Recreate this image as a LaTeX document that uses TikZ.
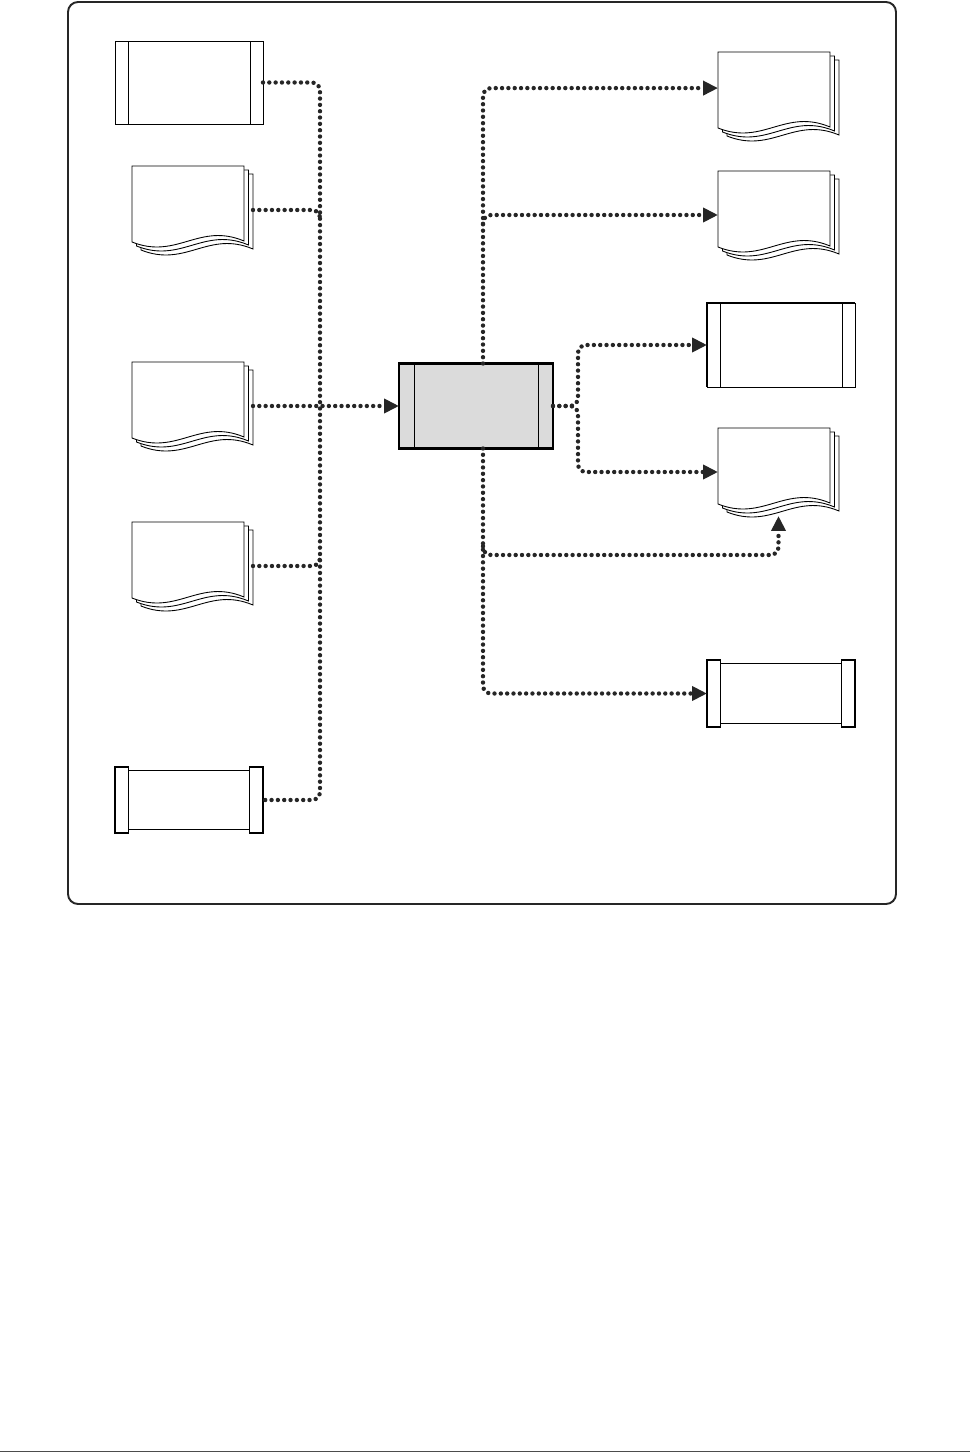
\documentclass[tikz,border=0pt]{standalone}
\usepackage{tikz}
\usetikzlibrary{arrows.meta}

\tikzset{
  flow/.style={draw=black!85, line width=2.5pt, dash pattern=on 0pt off 3.6pt,
    line cap=round, rounded corners=0.16cm},
  flowto/.style={flow, -{Triangle[length=0.3cm,width=0.28cm]}},
  procbox/.style={draw, line width=0.5pt, fill=white, inner sep=0pt, outer sep=0pt,
    minimum width=2.96cm, minimum height=1.66cm},
  hubbox/.style={procbox, fill=black!14, line width=1.2pt,
    minimum width=3.08cm, minimum height=1.7cm},
  rollbox/.style={inner sep=0pt, outer sep=0pt, minimum width=2.96cm, minimum height=1.32cm},
  docbox/.style={inner sep=0pt, outer sep=0pt, minimum width=2.42cm, minimum height=1.76cm},
  page/.style={draw, fill=white, line width=0.5pt},
}

\begin{document}
\begin{tikzpicture}[x=0.02cm, y=-0.02cm]
  \useasboundingbox (0,0) rectangle (970,1453);
  \draw[line width=1.1pt, black!85, rounded corners=0.2cm] (68,2) rectangle (896,904);
  \draw[line width=0.9pt, black!70] (0,1451.5) -- (970,1451.5);

  % sources
  \node[procbox] (src_proc) at (189,82.5) {};
  \node[docbox] (src_doc_a) at (192.5,210) {};
  \node[docbox] (src_doc_b) at (192.5,406) {};
  \node[docbox] (src_doc_c) at (192.5,566) {};
  \node[rollbox] (src_term) at (189,800) {};

  % hub
  \node[hubbox] (hub) at (476,406) {};

  % targets
  \node[docbox] (dst_doc_a) at (778.5,96) {};
  \node[docbox] (dst_doc_b) at (778.5,215) {};
  \node[procbox, minimum height=1.68cm] (dst_proc) at (781,345) {};
  \node[docbox] (dst_doc_c) at (778.5,472) {};
  \node[rollbox, minimum height=1.34cm] (dst_term) at (781,693.5) {};

  % side bars of the process boxes
  \foreach \n/\d in {src_proc/0.26cm, dst_proc/0.26cm, hub/0.3cm}{
    \draw[line width=0.5pt] ([xshift=\d]\n.north west) -- ([xshift=\d]\n.south west);
    \draw[line width=0.5pt] ([xshift=-\d]\n.north east) -- ([xshift=-\d]\n.south east);
  }
  \draw[line width=1.1pt] (dst_proc.south west) -- (dst_proc.north west) -- (dst_proc.north east);

  % end caps
  \foreach \n in {src_term, dst_term}{
    \draw[page] ([xshift=0.27cm,yshift=-0.07cm]\n.north west) rectangle ([xshift=-0.27cm,yshift=0.07cm]\n.south east);
    \draw[page, line width=0.7pt] (\n.north west) rectangle ([xshift=0.27cm]\n.south west);
    \draw[page, line width=0.7pt] (\n.north east) rectangle ([xshift=-0.27cm]\n.south east);
  }

  % stacked pages
  \foreach \n in {src_doc_a, src_doc_b, src_doc_c, dst_doc_a, dst_doc_b, dst_doc_c}{
    \begin{scope}[shift={(\n.north west)}]
      \foreach \dx/\dy in {9/8, 4.5/4, 0/0}
        \draw[page] (\dx,\dy) -- ({\dx+112},\dy) -- ({\dx+112},{\dy+75})
          .. controls ({\dx+67},{\dy+56}) and ({\dx+45},{\dy+94}) .. (\dx,{\dy+76}) -- cycle;
    \end{scope}
  }

  % junctions
  \coordinate (lbus) at (320,406);
  \coordinate (rbus) at (483,406);
  \coordinate (rsplit) at (578,406);
  \coordinate (rjoin) at (483,555);

  % into the hub
  \draw[flow] (src_proc.east) -- (lbus |- src_proc.east) -- (lbus |- src_term.east) -- (src_term.east);
  \draw[flow] (src_doc_a.east) -| ([yshift=-5pt]lbus |- src_doc_a.east);
  \draw[flow] (src_doc_c.east) -| ([yshift=5pt]lbus |- src_doc_c.east);
  \draw[flowto] (src_doc_b.east) -- (hub.west);

  % out of the hub
  \draw[flowto] (rbus |- hub.north) |- ([yshift=4.5pt]dst_doc_a.west);
  \draw[flowto] ([yshift=-5pt]rbus |- dst_doc_b.west) |- (dst_doc_b.west);
  \draw[flowto] (hub.east) -- (rsplit) |- (dst_proc.west);
  \draw[flowto] (hub.east) -- (rsplit) |- (dst_doc_c.west);
  \draw[flowto] (rbus |- hub.south) |- (dst_term.west);
  \draw[flowto] ([yshift=5pt]rjoin) -- (rjoin) -| (dst_doc_c.south);
\end{tikzpicture}
\end{document}
